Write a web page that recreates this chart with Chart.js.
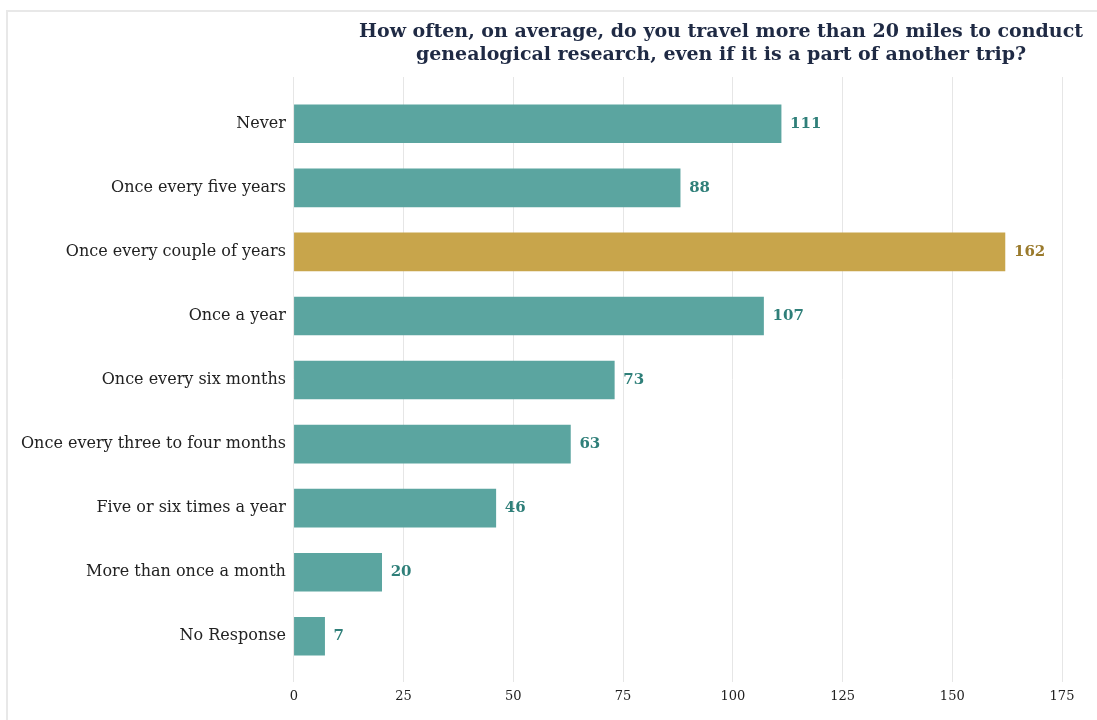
<!DOCTYPE html>
<html>
<head>
<meta charset="utf-8">
<script src="https://cdn.jsdelivr.net/npm/chart.js@4.4.1/dist/chart.umd.min.js"></script>
<style>
    html, body { margin: 0; padding: 0; background: #fff; }
    .card {
        position: absolute;
        left: 6px;
        top: 10px;
        width: 1200px;
        height: 800px;
        border-left: 2px solid #e8e8e8;
        border-top: 2px solid #e8e8e8;
    }
    .wrap { position: absolute; left: 0; top: 0; width: 1097px; height: 720px; }
</style>
</head>
<body>
<div class="card"></div>
<div class="wrap"><canvas id="chart"></canvas></div>
<script>
// Survey answers, top to bottom
const categories = [
    'Never',
    'Once every five years',
    'Once every couple of years',
    'Once a year',
    'Once every six months',
    'Once every three to four months',
    'Five or six times a year',
    'More than once a month',
    'No Response'
];
const counts = [111, 88, 162, 107, 73, 63, 46, 20, 7];
const highlightIndex = 2;
const xTicks = [0, 25, 50, 75, 100, 125, 150, 175];
const titleLines = [
    'How often, on average, do you travel more than 20 miles to conduct',
    'genealogical research, even if it is a part of another trip?'
];

const TEAL = '#5ba5a0';
const GOLD = '#c8a54b';
const TEAL_TEXT = '#2f7f79';
const GOLD_TEXT = '#9a7a2c';
const SERIF = '"DejaVu Serif", serif';

/**
 * Draw the two-line title centred over the right part of the card
 */
const titlePlugin = {
    id: 'centredTitle',
    afterDraw(chart) {
        const ctx = chart.ctx;
        ctx.save();
        ctx.font = 'bold 19px ' + SERIF;
        ctx.fillStyle = '#1f2a44';
        ctx.textAlign = 'center';
        ctx.textBaseline = 'middle';
        ctx.fillText(titleLines[0], 721, 32);
        ctx.fillText(titleLines[1], 721, 55);
        ctx.restore();
    }
};

/**
 * Value labels at the end of each bar
 */
const valueLabels = {
    id: 'valueLabels',
    afterDatasetsDraw(chart) {
        const ctx = chart.ctx;
        const meta = chart.getDatasetMeta(0);
        ctx.save();
        ctx.font = 'bold 15px ' + SERIF;
        ctx.textAlign = 'left';
        ctx.textBaseline = 'middle';
        meta.data.forEach((bar, i) => {
            ctx.fillStyle = i === highlightIndex ? GOLD_TEXT : TEAL_TEXT;
            ctx.fillText(String(counts[i]), bar.x + 9, bar.y);
        });
        ctx.restore();
    }
};

const points = counts.map((v, i) => ({ x: v, y: i }));

new Chart(document.getElementById('chart'), {
    type: 'bar',
    data: {
        datasets: [{
            data: points,
            backgroundColor: counts.map((v, i) => i === highlightIndex ? GOLD : TEAL),
            borderWidth: 0,
            barThickness: 38
        }]
    },
    options: {
        indexAxis: 'y',
        responsive: true,
        maintainAspectRatio: false,
        animation: false,
        layout: {
            padding: { top: 77, right: 35, bottom: 10, left: 21 }
        },
        plugins: {
            legend: { display: false },
            tooltip: { enabled: false }
        },
        scales: {
            x: {
                type: 'linear',
                min: 0,
                max: 175,
                afterBuildTicks: scale => {
                    scale.ticks = xTicks.map(v => ({ value: v }));
                },
                grid: { color: '#e6e6e6', lineWidth: 1, drawTicks: false },
                border: { display: false },
                ticks: {
                    padding: 6,
                    color: '#222',
                    font: { family: SERIF, size: 13 }
                }
            },
            y: {
                type: 'linear',
                reverse: true,
                offset: false,
                min: -0.73,
                max: 8.72,
                afterBuildTicks: scale => {
                    scale.ticks = categories.map((c, i) => ({ value: i }));
                },
                grid: { display: false },
                border: { display: false },
                ticks: {
                    padding: 0,
                    color: '#222',
                    font: { family: SERIF, size: 16 },
                    callback: v => categories[v]
                }
            }
        }
    },
    plugins: [titlePlugin, valueLabels]
});
</script>
</body>
</html>
